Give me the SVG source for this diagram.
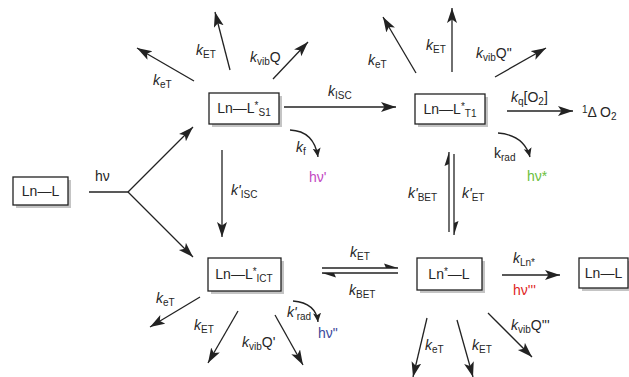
<svg xmlns="http://www.w3.org/2000/svg" width="629" height="377" viewBox="0 0 629 377">
<style>
text{font-family:"Liberation Sans",Arial,sans-serif;font-size:14px;fill:#262626}
.k{font-style:italic}
.s{font-size:10px}
.box{fill:#fff;stroke:#222;stroke-width:1.3}
.sh{fill:#c4c4c4}
.c{stroke:#222;stroke-width:1.3;fill:none}
.a{marker-end:url(#ah)}
.h{marker-end:url(#hp)}
.cv{marker-end:url(#sm)}
.bt{text-anchor:middle}
</style>
<defs>
<marker id="ah" markerUnits="userSpaceOnUse" markerWidth="17" markerHeight="12" refX="15" refY="5" orient="auto">
<path d="M0,0 L15,5 L0,10 L3.5,5 z" fill="#222"/>
</marker>
<marker id="hp" markerUnits="userSpaceOnUse" markerWidth="16" markerHeight="10" refX="14" refY="5" orient="auto">
<path d="M0,0.5 L14,5 L2,5 z" fill="#222"/>
</marker>
<marker id="sm" markerUnits="userSpaceOnUse" markerWidth="11" markerHeight="9" refX="9" refY="4" orient="auto">
<path d="M0,0 L9,4 L0,8 L2,4 z" fill="#222"/>
</marker>
</defs>

<g id="connectors">
<line class="c" x1="89" y1="192" x2="128" y2="192"/>
<line class="c a" x1="128" y1="192" x2="193" y2="127"/>
<line class="c a" x1="128" y1="192" x2="193" y2="257"/>
<line class="c a" x1="194" y1="81" x2="137" y2="48"/>
<line class="c a" x1="230" y1="70" x2="215" y2="12"/>
<line class="c a" x1="273" y1="79" x2="308" y2="42"/>
<line class="c a" x1="284" y1="107" x2="396" y2="107"/>
<path class="c cv" d="M290,130 Q314,131 318,157"/>
<line class="c a" x1="222" y1="150" x2="222" y2="237"/>
<line class="c a" x1="416" y1="73" x2="383" y2="17"/>
<line class="c a" x1="452" y1="72" x2="452" y2="8"/>
<line class="c a" x1="495" y1="77" x2="546" y2="48"/>
<line class="c a" x1="507" y1="111" x2="573" y2="111"/>
<path class="c cv" d="M498,133 Q524,135 530,157"/>
<line class="c h" x1="449" y1="232" x2="449" y2="152"/>
<line class="c h" x1="454" y1="154" x2="454" y2="235"/>
<line class="c a" x1="200" y1="297" x2="150" y2="327"/>
<line class="c a" x1="238" y1="311" x2="208" y2="363"/>
<line class="c a" x1="275" y1="315" x2="303" y2="365"/>
<path class="c cv" d="M293,301 Q316,303 318,322"/>
<line class="c h" x1="322" y1="268" x2="398" y2="268"/>
<line class="c h" x1="398" y1="273" x2="322" y2="273"/>
<line class="c a" x1="502" y1="275" x2="560" y2="275"/>
<line class="c a" x1="427" y1="318" x2="413" y2="377"/>
<line class="c a" x1="457" y1="320" x2="473" y2="377"/>
<line class="c a" x1="488" y1="313" x2="532" y2="357"/>
</g>

<g id="labels">
<text x="95" y="181">hν</text>
<text x="153" y="85"><tspan class="k">k</tspan><tspan class="s" dy="3">eT</tspan></text>
<text x="196" y="55"><tspan class="k">k</tspan><tspan class="s" dy="3">ET</tspan></text>
<text x="250" y="62"><tspan class="k">k</tspan><tspan class="s" dy="3">vib</tspan><tspan dy="-3">Q</tspan></text>
<text x="328" y="96"><tspan class="k">k</tspan><tspan class="s" dy="3">ISC</tspan></text>
<text x="296" y="152"><tspan class="k">k</tspan><tspan class="s" dy="3">f</tspan></text>
<text x="309" y="182" style="fill:#c248c2">hν'</text>
<text x="368" y="65"><tspan class="k">k</tspan><tspan class="s" dy="3">eT</tspan></text>
<text x="426" y="50"><tspan class="k">k</tspan><tspan class="s" dy="3">ET</tspan></text>
<text x="476" y="58"><tspan class="k">k</tspan><tspan class="s" dy="3">vib</tspan><tspan dy="-3">Q"</tspan></text>
<text x="511" y="102"><tspan class="k">k</tspan><tspan class="s" dy="3">q</tspan><tspan dy="-3">[O</tspan><tspan class="s" dy="3">2</tspan><tspan dy="-3">]</tspan></text>
<text x="582" y="117"><tspan class="s" dy="-4">1</tspan><tspan dy="4">Δ O</tspan><tspan class="s" dy="3">2</tspan></text>
<text x="494" y="158">k<tspan class="s" dy="3">rad</tspan></text>
<text x="527" y="181" style="fill:#6cc040">hν*</text>
<text x="231" y="195"><tspan class="k">k'</tspan><tspan class="s" dy="3">ISC</tspan></text>
<text x="156" y="303"><tspan class="k">k</tspan><tspan class="s" dy="3">eT</tspan></text>
<text x="194" y="330"><tspan class="k">k</tspan><tspan class="s" dy="3">ET</tspan></text>
<text x="242" y="347"><tspan class="k">k</tspan><tspan class="s" dy="3">vib</tspan><tspan dy="-3">Q'</tspan></text>
<text x="287" y="317"><tspan class="k">k'</tspan><tspan class="s" dy="3">rad</tspan></text>
<text x="318" y="338" style="fill:#3c4a9c">hν"</text>
<text x="350" y="257"><tspan class="k">k</tspan><tspan class="s" dy="3">ET</tspan></text>
<text x="349" y="295"><tspan class="k">k</tspan><tspan class="s" dy="3">BET</tspan></text>
<text x="408" y="198"><tspan class="k">k'</tspan><tspan class="s" dy="3">BET</tspan></text>
<text x="462" y="198"><tspan class="k">k'</tspan><tspan class="s" dy="3">ET</tspan></text>
<text x="513" y="263"><tspan class="k">k</tspan><tspan class="s" dy="3">Ln*</tspan></text>
<text x="513" y="295" style="fill:#e02424">hν'''</text>
<text x="425" y="350"><tspan class="k">k</tspan><tspan class="s" dy="3">eT</tspan></text>
<text x="472" y="350"><tspan class="k">k</tspan><tspan class="s" dy="3">ET</tspan></text>
<text x="511" y="330"><tspan class="k">k</tspan><tspan class="s" dy="3">vib</tspan><tspan dy="-3">Q'''</tspan></text>
</g>

<g id="n-LnL">
<rect class="sh" x="16" y="180" width="55" height="28"/>
<rect class="box" x="13" y="177" width="55" height="28"/>
<text class="bt" x="40.5" y="196">Ln—L</text>
</g>
<g id="n-S1">
<rect class="sh" x="212" y="96" width="70" height="31"/>
<rect class="box" x="209" y="93" width="70" height="31"/>
<text class="bt" x="244" y="113">Ln—L<tspan class="s" dy="-4">*</tspan><tspan class="s" dy="7">S1</tspan></text>
</g>
<g id="n-T1">
<rect class="sh" x="418" y="97" width="70" height="30"/>
<rect class="box" x="415" y="94" width="70" height="30"/>
<text class="bt" x="450" y="114">Ln—L<tspan class="s" dy="-4">*</tspan><tspan class="s" dy="7">T1</tspan></text>
</g>
<g id="n-ICT">
<rect class="sh" x="211" y="261" width="73" height="33"/>
<rect class="box" x="208" y="258" width="73" height="33"/>
<text class="bt" x="244" y="279">Ln—L<tspan class="s" dy="-4">*</tspan><tspan class="s" dy="7">ICT</tspan></text>
</g>
<g id="n-LnStar">
<rect class="sh" x="420" y="261" width="65" height="32"/>
<rect class="box" x="417" y="258" width="65" height="32"/>
<text class="bt" x="449" y="279">Ln<tspan class="s" dy="-4">*</tspan><tspan dy="4">—L</tspan></text>
</g>
<g id="n-LnL2">
<rect class="sh" x="582" y="261" width="49" height="30"/>
<rect class="box" x="579" y="258" width="49" height="30"/>
<text class="bt" x="603.5" y="278">Ln—L</text>
</g>
</svg>
